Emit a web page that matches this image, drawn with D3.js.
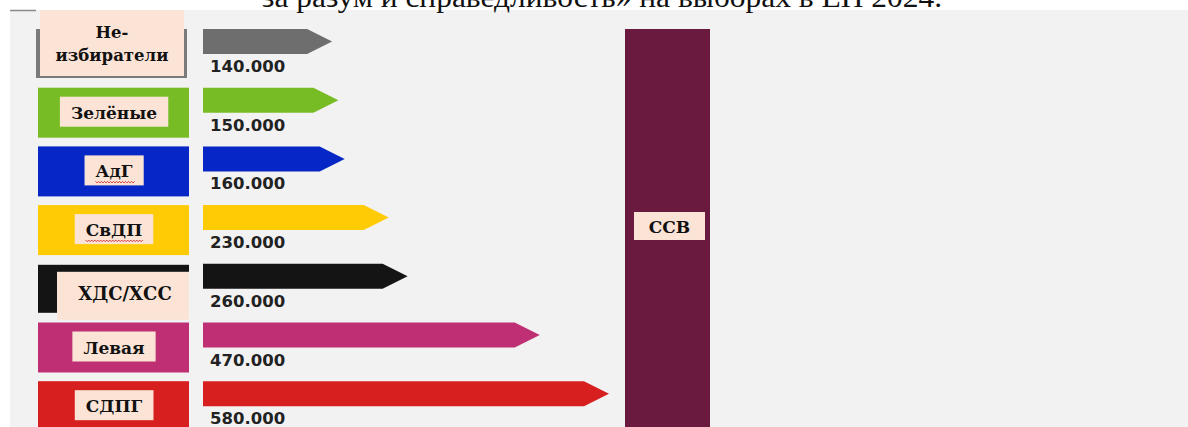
<!DOCTYPE html>
<html><head><meta charset="utf-8">
<script src="https://cdn.jsdelivr.net/npm/d3@7"></script>
<style>html,body{margin:0;padding:0;background:#fff;}svg{display:block;}</style>
</head><body>
<svg id="chart" width="1188" height="427"></svg>
<script>
const titleText = "за разум и справедливость» на выборах в ЕП 2024.";
const categories = ["Не-избиратели", "Зелёные", "АдГ", "СвДП", "ХДС/ХСС", "Левая", "СДПГ"];
const flows = [140000, 150000, 160000, 230000, 260000, 470000, 580000];
const valueLabels = ["140.000", "150.000", "160.000", "230.000", "260.000", "470.000", "580.000"];
const targetParty = "ССВ";
const partyColors = ["#6e6e6e", "#78bc25", "#0627c6", "#ffcb05", "#141414", "#bf2f74", "#d81f1f"];

const W = 1188, H = 427;
const peach = "#fbe4d6";
const svg = d3.select("#chart");

// background
svg.append("rect").attr("x", 0).attr("y", 0).attr("width", W).attr("height", H).attr("fill", "#ffffff");
svg.append("rect").attr("x", 10).attr("y", 10).attr("width", W - 10).attr("height", H - 10).attr("fill", "#f2f2f2");
svg.append("line").attr("x1", 10).attr("x2", 36).attr("y1", 10.5).attr("y2", 10.5).attr("stroke", "#8a8a8a").attr("stroke-width", 1.5);

// title (cut off by top edge, as in the reference)
svg.append("text").attr("x", 262).attr("y", 6.5)
  .attr("font-family", "'Liberation Serif', 'Times New Roman', serif")
  .attr("font-size", 30).attr("fill", "#111")
  .attr("textLength", 680).attr("lengthAdjust", "spacingAndGlyphs")
  .text(titleText);

const y = d3.scaleBand().domain(categories).range([29, 29 + 58.7 * categories.length]).paddingInner(0);
const x = d3.scaleLinear().domain([0, 580000]).range([244, 609]);
const arrowStart = 203, arrowH = 25, head = 25;

const rows = svg.append("g").selectAll("g").data(categories).join("g");

// coloured label boxes
rows.each(function (c, i) {
  const g = d3.select(this);
  const t = y(c);
  const col = partyColors[i];
  const serif = "'DejaVu Serif', 'Liberation Serif', serif";
  if (i === 0) {
    g.append("rect").attr("x", 36).attr("y", t).attr("width", 151).attr("height", 49).attr("fill", "#7a7a7a");
    g.append("rect").attr("x", 40).attr("y", 10).attr("width", 144).attr("height", 66).attr("fill", peach);
    const tx = g.append("text").attr("x", 112).attr("text-anchor", "middle")
      .attr("font-family", serif).attr("font-weight", "bold").attr("font-size", 16.5).attr("fill", "#111");
    tx.append("tspan").attr("x", 112).attr("y", 38).text("Не-");
    tx.append("tspan").attr("x", 112).attr("y", 61).text("избиратели");
  } else if (c === "ХДС/ХСС") {
    g.append("rect").attr("x", 38).attr("y", t + 1).attr("width", 151).attr("height", 48).attr("fill", col);
    g.append("rect").attr("x", 57).attr("y", t + 8).attr("width", 132).attr("height", 48).attr("fill", peach);
    g.append("text").attr("x", 125).attr("y", t + 36).attr("text-anchor", "middle")
      .attr("font-family", serif).attr("font-weight", "bold").attr("font-size", 18).attr("fill", "#111").text(c);
  } else {
    g.append("rect").attr("x", 38).attr("y", t).attr("width", 151).attr("height", 50).attr("fill", col);
    const tx = g.append("text").attr("x", 114).attr("y", t + 31).attr("text-anchor", "middle")
      .attr("font-family", serif).attr("font-weight", "bold").attr("font-size", 17).attr("fill", "#111").text(c);
    const bb = tx.node().getBBox();
    const padX = 11;
    g.insert("rect", "text").attr("x", bb.x - padX).attr("y", t + 9).attr("width", bb.width + 2 * padX).attr("height", 30).attr("fill", peach);
    if (c === "АдГ" || c === "СвДП") {
      const x0 = bb.x, x1 = bb.x + bb.width, yy = t + 35;
      let p = `M${x0},${yy}`;
      for (let xx = x0; xx < x1; xx += 3) p += ` L${xx + 1.5},${yy + 1.5} L${xx + 3},${yy}`;
      g.append("path").attr("d", p).attr("fill", "none").attr("stroke", "#d02020").attr("stroke-width", 0.9);
    }
  }
});

// arrows
rows.append("path")
  .attr("d", (c, i) => {
    const t = y(c), tip = x(flows[i]);
    return `M${arrowStart},${t} L${tip - head},${t} L${tip},${t + arrowH / 2} L${tip - head},${t + arrowH} L${arrowStart},${t + arrowH} Z`;
  })
  .attr("fill", (c, i) => partyColors[i]);

// value labels
rows.append("text")
  .attr("x", 210).attr("y", c => y(c) + 43)
  .attr("font-family", "'DejaVu Sans', sans-serif").attr("font-weight", "bold").attr("font-size", 16.5)
  .attr("fill", "#222")
  .text((c, i) => valueLabels[i]);

// target bar
const barX = 625, barW = 85;
svg.append("rect").attr("x", barX).attr("y", y.range()[0]).attr("width", barW).attr("height", H - y.range()[0]).attr("fill", "#6a1a3f");
svg.append("rect").attr("x", 634).attr("y", 212).attr("width", 71).attr("height", 28).attr("fill", peach);
svg.append("text").attr("x", 669.5).attr("y", 233).attr("text-anchor", "middle")
  .attr("font-family", "'DejaVu Serif', 'Liberation Serif', serif").attr("font-weight", "bold").attr("font-size", 17).attr("fill", "#111")
  .text(targetParty);
</script>
</body></html>
